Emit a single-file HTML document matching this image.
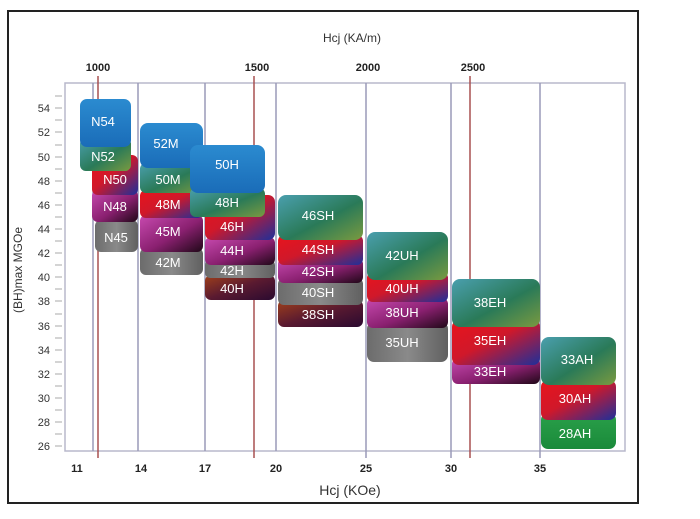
<!DOCTYPE html>
<html><head><style>
body{margin:0;background:#fff;width:700px;height:514px;overflow:hidden;font-family:"Liberation Sans",sans-serif}
</style></head><body>
<svg width="700" height="514" xmlns="http://www.w3.org/2000/svg" font-family="Liberation Sans, sans-serif">
<defs>
<linearGradient id="blue" x1="0" y1="0" x2="0" y2="1"><stop offset="0" stop-color="#2b8bd0"/><stop offset="1" stop-color="#1a6cb8"/></linearGradient>
<linearGradient id="teal" x1="0" y1="0" x2="1" y2="1"><stop offset="0" stop-color="#4a9fae"/><stop offset="0.55" stop-color="#2a7a58"/><stop offset="1" stop-color="#7a9a40"/></linearGradient>
<linearGradient id="red" x1="0" y1="0" x2="1" y2="1"><stop offset="0" stop-color="#e8141c"/><stop offset="0.45" stop-color="#d0182a"/><stop offset="1" stop-color="#1e2f9a"/></linearGradient>
<linearGradient id="mag" x1="0" y1="0" x2="1" y2="1"><stop offset="0" stop-color="#c84ab0"/><stop offset="0.55" stop-color="#8a2070"/><stop offset="1" stop-color="#200818"/></linearGradient>
<linearGradient id="gray" x1="0" y1="0" x2="1" y2="0"><stop offset="0" stop-color="#6c6c6c"/><stop offset="0.5" stop-color="#8a8a8a"/><stop offset="1" stop-color="#606060"/></linearGradient>
<linearGradient id="brown" x1="0" y1="0" x2="1" y2="1"><stop offset="0" stop-color="#a0401a"/><stop offset="0.5" stop-color="#5a1a30"/><stop offset="1" stop-color="#2a0a30"/></linearGradient>
<linearGradient id="green" x1="0" y1="0" x2="0" y2="1"><stop offset="0" stop-color="#2aa04a"/><stop offset="1" stop-color="#1a8a3a"/></linearGradient>
</defs>
<rect x="8" y="11" width="630" height="492" fill="#fff" stroke="#222" stroke-width="2"/>
<rect x="65" y="83" width="560" height="368" fill="none" stroke="#b8b8cc" stroke-width="1.5"/>
<g stroke="#9a9ab8" stroke-width="1.5">
<line x1="93" y1="83" x2="93" y2="451"/><line x1="138" y1="83" x2="138" y2="451"/>
<line x1="205" y1="83" x2="205" y2="451"/><line x1="276" y1="83" x2="276" y2="451"/>
<line x1="366" y1="83" x2="366" y2="458"/><line x1="451" y1="83" x2="451" y2="458"/>
<line x1="540" y1="83" x2="540" y2="458"/>
</g>
<g stroke="#a85050" stroke-width="1.5">
<line x1="98" y1="76" x2="98" y2="458"/><line x1="254" y1="76" x2="254" y2="458"/>
<line x1="470" y1="76" x2="470" y2="458"/>
</g>
<g stroke="#aaa" stroke-width="1">
<line x1="55" y1="96" x2="62" y2="96"/><line x1="55" y1="120" x2="62" y2="120"/><line x1="55" y1="145" x2="62" y2="145"/><line x1="55" y1="169" x2="62" y2="169"/><line x1="55" y1="193" x2="62" y2="193"/><line x1="55" y1="217" x2="62" y2="217"/><line x1="55" y1="241" x2="62" y2="241"/><line x1="55" y1="265" x2="62" y2="265"/><line x1="55" y1="289" x2="62" y2="289"/><line x1="55" y1="314" x2="62" y2="314"/><line x1="55" y1="338" x2="62" y2="338"/><line x1="55" y1="362" x2="62" y2="362"/><line x1="55" y1="386" x2="62" y2="386"/><line x1="55" y1="410" x2="62" y2="410"/><line x1="55" y1="434" x2="62" y2="434"/>
<line x1="55" y1="108" x2="62" y2="108"/><line x1="55" y1="132" x2="62" y2="132"/><line x1="55" y1="157" x2="62" y2="157"/><line x1="55" y1="181" x2="62" y2="181"/><line x1="55" y1="205" x2="62" y2="205"/><line x1="55" y1="229" x2="62" y2="229"/><line x1="55" y1="253" x2="62" y2="253"/><line x1="55" y1="277" x2="62" y2="277"/><line x1="55" y1="301" x2="62" y2="301"/><line x1="55" y1="326" x2="62" y2="326"/><line x1="55" y1="350" x2="62" y2="350"/><line x1="55" y1="374" x2="62" y2="374"/><line x1="55" y1="398" x2="62" y2="398"/><line x1="55" y1="422" x2="62" y2="422"/><line x1="55" y1="446" x2="62" y2="446"/>
</g>
<g font-size="11" fill="#333" text-anchor="end">
<text x="50" y="112">54</text><text x="50" y="136">52</text><text x="50" y="161">50</text><text x="50" y="185">48</text><text x="50" y="209">46</text><text x="50" y="233">44</text><text x="50" y="257">42</text><text x="50" y="281">40</text><text x="50" y="305">38</text><text x="50" y="330">36</text><text x="50" y="354">34</text><text x="50" y="378">32</text><text x="50" y="402">30</text><text x="50" y="426">28</text><text x="50" y="450">26</text>
</g>
<text transform="translate(22,270) rotate(-90)" font-size="12" fill="#333" text-anchor="middle">(BH)max MGOe</text>
<text x="352" y="42" font-size="12" fill="#333" text-anchor="middle">Hcj (KA/m)</text>
<g font-size="11" font-weight="bold" fill="#222" text-anchor="middle">
<text x="98" y="71">1000</text><text x="257" y="71">1500</text><text x="368" y="71">2000</text><text x="473" y="71">2500</text>
<text x="77" y="472">11</text><text x="141" y="472">14</text><text x="205" y="472">17</text><text x="276" y="472">20</text><text x="366" y="472">25</text><text x="451" y="472">30</text><text x="540" y="472">35</text>
</g>
<text x="350" y="495" font-size="14" fill="#333" text-anchor="middle">Hcj (KOe)</text>
<g font-size="13" fill="#fff">
<!-- column 1 -->
<rect x="95" y="220" width="43" height="32" rx="6" fill="url(#gray)"/><text x="116" y="242" text-anchor="middle">N45</text>
<rect x="92" y="190" width="46" height="32" rx="6" fill="url(#mag)"/><text x="115" y="211" text-anchor="middle">N48</text>
<rect x="92" y="155" width="46" height="40" rx="6" fill="url(#red)"/><text x="115" y="184" text-anchor="middle">N50</text>
<rect x="80" y="138" width="51" height="33" rx="6" fill="url(#teal)"/><text x="103" y="161" text-anchor="middle">N52</text>
<rect x="80" y="99" width="51" height="48" rx="7" fill="url(#blue)"/><text x="103" y="126" text-anchor="middle">N54</text>
<!-- M -->
<rect x="140" y="248" width="63" height="27" rx="6" fill="url(#gray)"/><text x="168" y="267" text-anchor="middle">42M</text>
<rect x="140" y="215" width="63" height="37" rx="6" fill="url(#mag)"/><text x="168" y="236" text-anchor="middle">45M</text>
<rect x="140" y="190" width="63" height="28" rx="6" fill="url(#red)"/><text x="168" y="209" text-anchor="middle">48M</text>
<rect x="140" y="163" width="63" height="30" rx="6" fill="url(#teal)"/><text x="168" y="184" text-anchor="middle">50M</text>
<rect x="140" y="123" width="63" height="45" rx="8" fill="url(#blue)"/><text x="166" y="148" text-anchor="middle">52M</text>
<!-- H -->
<rect x="205" y="275" width="70" height="25" rx="6" fill="url(#brown)"/><text x="232" y="293" text-anchor="middle">40H</text>
<rect x="205" y="260" width="70" height="18" rx="5" fill="url(#gray)"/><text x="232" y="275" text-anchor="middle">42H</text>
<rect x="205" y="237" width="70" height="28" rx="6" fill="url(#mag)"/><text x="232" y="255" text-anchor="middle">44H</text>
<rect x="205" y="195" width="70" height="45" rx="7" fill="url(#red)"/><text x="232" y="231" text-anchor="middle">46H</text>
<rect x="190" y="188" width="75" height="29" rx="6" fill="url(#teal)"/><text x="227" y="207" text-anchor="middle">48H</text>
<rect x="190" y="145" width="75" height="48" rx="8" fill="url(#blue)"/><text x="227" y="169" text-anchor="middle">50H</text>
<!-- SH -->
<rect x="278" y="300" width="85" height="27" rx="6" fill="url(#brown)"/><text x="318" y="319" text-anchor="middle">38SH</text>
<rect x="278" y="278" width="85" height="27" rx="6" fill="url(#gray)"/><text x="318" y="297" text-anchor="middle">40SH</text>
<rect x="278" y="258" width="85" height="25" rx="6" fill="url(#mag)"/><text x="318" y="276" text-anchor="middle">42SH</text>
<rect x="278" y="235" width="85" height="30" rx="6" fill="url(#red)"/><text x="318" y="254" text-anchor="middle">44SH</text>
<rect x="278" y="195" width="85" height="45" rx="8" fill="url(#teal)"/><text x="318" y="220" text-anchor="middle">46SH</text>
<!-- UH -->
<rect x="367" y="322" width="81" height="40" rx="7" fill="url(#gray)"/><text x="402" y="347" text-anchor="middle">35UH</text>
<rect x="367" y="298" width="81" height="30" rx="6" fill="url(#mag)"/><text x="402" y="317" text-anchor="middle">38UH</text>
<rect x="367" y="272" width="81" height="30" rx="6" fill="url(#red)"/><text x="402" y="293" text-anchor="middle">40UH</text>
<rect x="367" y="232" width="81" height="48" rx="8" fill="url(#teal)"/><text x="402" y="260" text-anchor="middle">42UH</text>
<!-- EH -->
<rect x="452" y="358" width="88" height="26" rx="6" fill="url(#mag)"/><text x="490" y="376" text-anchor="middle">33EH</text>
<rect x="452" y="320" width="88" height="45" rx="7" fill="url(#red)"/><text x="490" y="345" text-anchor="middle">35EH</text>
<rect x="452" y="279" width="88" height="48" rx="8" fill="url(#teal)"/><text x="490" y="307" text-anchor="middle">38EH</text>
<!-- AH -->
<rect x="541" y="413" width="75" height="36" rx="7" fill="url(#green)"/><text x="575" y="438" text-anchor="middle">28AH</text>
<rect x="541" y="380" width="75" height="40" rx="7" fill="url(#red)"/><text x="575" y="403" text-anchor="middle">30AH</text>
<rect x="541" y="337" width="75" height="48" rx="8" fill="url(#teal)"/><text x="577" y="364" text-anchor="middle">33AH</text>
</g>
</svg>
</body></html>
